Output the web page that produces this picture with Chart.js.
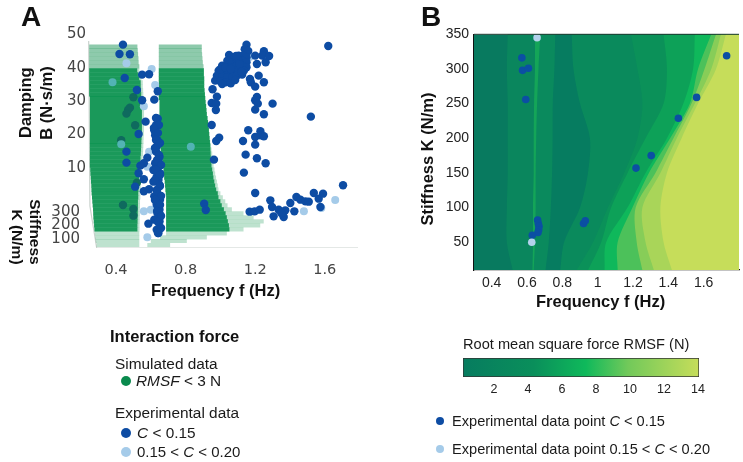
<!DOCTYPE html>
<html>
<head>
<meta charset="utf-8">
<script src="https://cdn.jsdelivr.net/npm/chart.js@4"></script>
<style>
  html, body { margin: 0; padding: 0; background: #fff; }
  body { width: 743px; height: 462px; position: relative; overflow: hidden; font-family: "Liberation Sans", Arial, sans-serif; color: #1a1a1a; }
  canvas { position: absolute; }
  .t { position: absolute; white-space: nowrap; font-size: 15.4px; line-height: 16px; }
  .r { font-size: 14.6px; }
  .b { font-weight: bold; color: #111; font-size: 16.5px; }
  .rot { transform-origin: center; }
  .dot { position: absolute; border-radius: 50%; }
</style>
</head>
<body>
<canvas id="chartA" width="370" height="310" style="left:0;top:0"></canvas>
<canvas id="chartB" width="343" height="310" style="left:400px;top:0"></canvas>
<canvas id="chartBar" width="270" height="50" style="left:450px;top:352px"></canvas>

<div class="t b" style="left:21px;top:3px;font-size:28px;line-height:28px">A</div>
<div class="t b" style="left:421px;top:3px;font-size:28px;line-height:28px">B</div>

<div class="t b rot" style="left:-10px;top:95px;width:70px;text-align:center;transform:rotate(-90deg)">Damping</div>
<div class="t b rot" style="left:6px;top:95px;width:80px;text-align:center;transform:rotate(-90deg)">B (N·s/m)</div>
<div class="t b rot" style="left:0px;top:224px;width:70px;text-align:center;font-size:15.5px;transform:rotate(90deg)">Stiffness</div>
<div class="t b rot" style="left:-18px;top:229px;width:70px;text-align:center;font-size:15.5px;transform:rotate(90deg)">K (N/m)</div>
<div class="t b" style="left:151px;top:282px">Frequency f (Hz)</div>
<div class="t b" style="left:536px;top:293px">Frequency f (Hz)</div>
<div class="t b rot" style="left:347px;top:151px;width:160px;text-align:center;transform:rotate(-90deg)">Stiffness K (N/m)</div>

<div class="t b" style="left:110px;top:328px">Interaction force</div>
<div class="t" style="left:115px;top:356px">Simulated data</div>
<span class="dot" style="left:121px;top:376px;width:10px;height:10px;background:#0a8a4d"></span>
<div class="t" style="left:136px;top:373px"><i>RMSF</i> &lt; 3 N</div>
<div class="t" style="left:115px;top:405px">Experimental data</div>
<span class="dot" style="left:121px;top:428px;width:10px;height:10px;background:#0d4ca3"></span>
<div class="t" style="left:137px;top:425px"><i>C</i> &lt; 0.15</div>
<span class="dot" style="left:121px;top:447px;width:10px;height:10px;background:#a5cbe9"></span>
<div class="t" style="left:137px;top:444px;font-size:15px">0.15 &lt; <i>C</i> &lt; 0.20</div>

<div class="t r" style="left:463px;top:336px">Root mean square force RMSF (N)</div>
<span class="dot" style="left:436px;top:417px;width:8px;height:8px;background:#0d4ca3"></span>
<div class="t r" style="left:452px;top:413px">Experimental data point <i>C</i> &lt; 0.15</div>
<span class="dot" style="left:436px;top:445px;width:8px;height:8px;background:#a5cbe9"></span>
<div class="t r" style="left:452px;top:441px">Experimental data point 0.15 &lt; <i>C</i> &lt; 0.20</div>

<script>
// Panel A: tick labels
const freqTicksA = [0.4, 0.8, 1.2, 1.6]
const dampTicks = [10, 20, 30, 40, 50]
const stiffTicksA = [100, 200, 300]

// Panel A: experimental points C < 0.15
const frontFreq = [0.44,0.42,0.48,0.45,0.55,0.59,0.52,0.55,0.57,0.53,0.46,0.46,0.58,0.56,0.54,0.53,0.56,0.51,0.56,0.59,
  0.64,0.62,0.64,0.63,0.62,0.625,0.638,0.634,0.63,0.65,0.625,0.644,0.615,0.653,0.634,0.615,0.65,0.634,0.62,0.653,0.634,0.65,0.653,0.62,0.586,0.65,0.634,0.644,0.638,0.63,0.644,0.644,
  0.63,0.647,0.618,0.641,0.63,0.653,0.624,0.647,0.636,0.659,0.63,0.653,0.624,0.653,0.636,0.659,0.624,0.653,0.636,0.659,0.641,0.659,0.641,
  0.955,0.98,0.95,0.976,0.974,0.95,0.993,0.976,0.963,0.907,0.916,
  1.15,1.14,1.16,1.05,1.08,1.105,1.13,1.15,1.04,1.07,1.095,1.125,1.15,1.01,1.04,1.07,1.095,1.125,1.15,0.99,1.02,1.05,1.08,1.105,1.135,0.98,1.01,1.04,1.07,1.095,1.125,0.97,1.0,1.03,1.06,1.085,1.01,
  1.10,1.0,1.03,1.06,1.11,1.09,1.12,
  1.25,1.24,1.28,1.2,1.21,1.26,1.22,1.17,1.175,1.25,1.2,1.21,1.2,1.215,1.3,1.2,1.25,1.16,1.23,1.23,1.2,1.25,1.13,1.2,1.145,1.21,1.26,1.135,1.52,1.62,
  1.705,1.2,1.537,1.59,1.437,1.287,1.402,1.46,1.489,1.508,1.565,1.297,1.335,1.168,1.197,1.226,1.373,1.425,1.575,1.306,1.364,1.35]
const frontDamp = [46.9,44.1,44,36.9,37.9,38,33.3,30.2,23.8,20.1,14.8,11.5,13,11.3,10.6,8.3,6.5,4.3,2.9,3.5,
  32.9,30.4,24.7,22.7,21.2,19.7,18.2,16.3,14.8,13.3,11.3,10.3,9.3,8.3,7.3,5.8,4.8,3.3,1.4,0.4,-1.1,-2.6,-4.1,-5.6,-6.8,-6.1,-8.6,-9.6,-3.6,9.3,12.3,6.3,
  24.9,22.8,21.9,20.4,18.3,17.4,15.9,13.8,12.3,10.8,9.3,7.8,6.3,4.5,3,1.5,0.3,-1.2,-3,-4.5,-6.3,-8.1,-9.6,
  33.5,31.3,29.4,29.2,27.3,22.8,19,18,12.4,-0.8,-2.7,
  46.9,45.5,45,43.8,43.1,43.6,43.6,43.1,42.1,41.6,42.1,42.1,41.6,40.6,40.1,40.1,40.6,40.6,40.1,39.1,38.6,38.6,38.6,39.1,39.1,37.6,37.3,37.1,37.3,37.6,37.9,36.1,35.9,35.6,35.3,36.3,35.1,
  42.5,39.5,40,39.6,41,43.5,38.8,
  44.9,43.6,43.5,43.6,41.1,41.6,37.6,36.6,35.6,35.6,34.3,31.2,30.2,29.2,29.2,27.4,26,21.2,20.9,19.7,19.2,19.4,18,16.9,13.9,12.8,11.3,8.5,25.3,46.5,
  4.7,2.4,2.4,2.2,1.2,0.2,-0.6,0.4,-0.1,-0.2,0.7,-1.8,-2.6,-3.2,-3.1,-2.6,-2.8,-3.1,-1.8,-4.6,-4.8,-3.6]

// Panel A: C < 0.15 points seen through the green surface
const shadedFreq = [0.50,0.47,0.48,0.46,0.51,0.43,0.52,0.44,0.50,0.50]
const shadedDamp = [31.1,27.4,28,26.2,22.7,18.2,5.5,-1.2,-2.4,-4.4]

// Panel A: experimental points 0.15 < C < 0.20
const lightFreq = [0.46,0.605,0.625,0.56,0.59,0.58,0.60,0.56,0.65,0.58,1.66,1.48,1.36,1.17,1.58]
const lightDamp = [41.3,39.6,34.8,28.4,14.8,10.3,-2.6,-3.1,-6.6,-10.9,0.3,-3.1,-4.4,43.3,-2.1]
const tintedFreq = [0.38,0.43,0.83]
const tintedDamp = [35.6,17,16.3]

// Panel A: simulated RMSF < 3 N surface, one layer per row
const layerDamp = [46.3,45.2,44,42.8,41.6,40.4,39.2,38,36.8,35.6,34.4,33.2,32,30.9,29.7,28.5,27.3,26.1,24.9,23.7,22.5,21.3,20.1,18.9,17.7,16.6,15.4,14.2,13,11.8,10.6,9.4,8.2,7,5.8,4.6,3.4,2.3,1.1,-0.1,-1.3,-2.5,-3.7,-4.9,-6.1,-7.3,-8.5,-9.7,-10.9,-12,-13.2]
const band1Left = [0.246,0.246,0.246,0.246,0.246,0.246,0.246,0.246,0.246,0.246,0.246,0.246,0.246,0.25,0.25,0.25,0.25,0.25,0.25,0.25,0.25,0.25,0.25,0.25,0.25,0.25,0.25,0.25,0.25,0.25,0.25,0.252,0.253,0.255,0.256,0.258,0.259,0.26,0.262,0.264,0.266,0.268,0.269,0.27,0.272,0.274,0.276,0.279,0.281,0.284,0.289]
const band1Right = [0.523,0.525,0.527,0.529,0.53,0.534,0.534,0.538,0.546,0.554,0.554,0.556,0.557,0.558,0.559,0.56,0.561,0.561,0.561,0.561,0.561,0.561,0.56,0.559,0.558,0.557,0.556,0.555,0.553,0.551,0.548,0.546,0.545,0.544,0.543,0.542,0.541,0.54,0.54,0.538,0.538,0.537,0.537,0.536,0.536,0.535,0.535,0.534,0.534,0.534,0.534]
const band2Left = [0.646,0.646,0.646,0.646,0.646,0.646,0.646,0.646,0.646,0.646,0.646,0.646,0.646,0.646,0.65,0.65,0.65,0.65,0.65,0.65,0.65,0.65,0.65,0.652,0.653,0.655,0.657,0.66,0.663,0.666,0.67,0.673,0.675,0.677,0.68,0.682,0.684,0.686,0.688,0.688,0.688,0.688,0.688,0.688,0.688,0.688,0.688,0.688,0.653,0.6,0.58]
const band2Right = [0.893,0.893,0.895,0.897,0.899,0.903,0.905,0.905,0.907,0.907,0.907,0.909,0.911,0.913,0.915,0.918,0.92,0.922,0.926,0.929,0.932,0.934,0.936,0.938,0.942,0.945,0.949,0.953,0.957,0.959,0.961,0.966,0.97,0.975,0.98,0.985,0.989,1.0,1.014,1.028,1.041,1.066,1.133,1.191,1.249,1.229,1.133,1.037,0.922,0.807,0.711]
const band2Core = [0.893,0.893,0.895,0.897,0.899,0.903,0.905,0.905,0.907,0.907,0.907,0.909,0.911,0.913,0.915,0.918,0.92,0.922,0.926,0.929,0.932,0.934,0.936,0.938,0.94,0.942,0.943,0.944,0.945,0.947,0.949,0.953,0.957,0.96,0.965,0.97,0.976,0.985,0.989,1.0,1.008,1.02,1.03,1.037,1.043,1.049,1.052,1.037,0.922,0.807,0.711]

// Panel A: the 3D box edges
const boxEdgeFreq = [0.243,0.25,0.289,1.791]
const boxEdgeDamp = [48,-1.5,-14.1,-14.1]

// Panel B: contour boundaries, frequency at each stiffness row
const contourStiff = [10,50,100,150,200,250,300,350]
const contourLeft = [0.3,0.3,0.3,0.3,0.3,0.3,0.3,0.3]
const contourA = [0.519,0.486,0.486,0.491,0.491,0.491,0.486,0.491]
const contourB = [0.631,0.634,0.634,0.638,0.638,0.640,0.645,0.645]
const contourC = [0.638,0.645,0.649,0.649,0.652,0.657,0.665,0.675]
const contourD = [0.705,0.723,0.735,0.742,0.745,0.746,0.755,0.76]
const contourE = [0.788,0.81,0.9,0.945,0.956,0.9,0.863,0.853]
const contourF = [0.881,0.974,1.058,1.15,1.225,1.253,1.225,1.188]
const contourG = [0.946,1.02,1.076,1.169,1.271,1.373,1.392,1.373]
const contourH = [1.039,1.048,1.169,1.271,1.392,1.485,1.54,1.55]
const contourI = [1.113,1.113,1.197,1.29,1.41,1.522,1.568,1.643]
const contourJ = [1.253,1.221,1.215,1.327,1.429,1.531,1.605,1.67]
const contourK = [1.318,1.271,1.253,1.355,1.448,1.55,1.643,1.698]
const contourL = [1.42,1.373,1.355,1.392,1.475,1.568,1.67,1.726]
const contourM = [1.522,1.494,1.429,1.438,1.503,1.587,1.698,1.754]

// Panel B: tick labels and points
const freqTicksB = [0.4, 0.6, 0.8, 1, 1.2, 1.4, 1.6]
const stiffTicksB = [50, 100, 150, 200, 250, 300, 350]
const pointFreqB = [0.571,0.575,0.608,0.593,0.66,0.664,0.668,0.666,0.662,0.63,0.92,0.93,1.217,1.303,1.457,1.56,1.73]
const pointStiffB = [316,298,301,256,82,77,73,68,64,60,77,81,157,175,229,259,319]
const lightFreqB = [0.657,0.627]
const lightStiffB = [345,50]

// Colour bar
const rmsfRange = [0.18, 14.06]
const rmsfTicks = [2, 4, 6, 8, 10, 12, 14]

const zip = (xs, ys) => xs.map((x, i) => ({x: x, y: ys[i]}))
const setTicks = list => axis => { axis.ticks = list.map(v => ({value: v})) }
const dots = (xs, ys, color, radius, order) => ({
  data: zip(xs, ys), backgroundColor: color, borderWidth: 0, pointRadius: radius, order: order
})

Chart.defaults.animation = false
Chart.defaults.responsive = false
Chart.defaults.events = []
Chart.defaults.plugins.legend.display = false
Chart.defaults.plugins.tooltip.enabled = false

// green layers
let layers = []
layerDamp.forEach((b, i) => {
  const pale = 'rgba(40,160,95,0.3)'
  const mid = 'rgba(30,150,90,0.5)'
  const row = (l, r, color, order) => ({
    type: 'line', data: [{x: l, y: b}, {x: r, y: b}], borderColor: color, borderWidth: 4.2,
    pointRadius: 0, backgroundColor: 'transparent', order: order
  })
  layers.push(row(band1Left[i], band1Right[i], i < 6 ? mid : pale, 5))
  layers.push(row(band2Left[i], band2Right[i], i < 6 ? mid : pale, 5))
  if (i >= 6 && i < 47) {
    const core = 'rgba(8,145,78,0.9)'
    layers.push(row(band1Left[i], band1Right[i] - 0.012, core, 4))
    layers.push(row(band2Left[i], band2Core[i], core, 4))
  }
})

new Chart(document.getElementById('chartA'), {
  type: 'scatter',
  data: {
    datasets: [
      {type: 'line', data: zip(boxEdgeFreq, boxEdgeDamp), borderColor: '#c9d2cd', borderWidth: 1.2, pointRadius: 0, order: 7},
      ...layers,
      dots(frontFreq, frontDamp, '#0d4ca3', 4.2, 2),
      dots(shadedFreq, shadedDamp, '#0f6a5e', 4.2, 2),
      dots(tintedFreq, tintedDamp, '#52b3b4', 4, 1),
      dots(lightFreq, lightDamp, '#a5cbe9', 4, 3)
    ]
  },
  options: {
    layout: {padding: {top: 34.3, right: 12}},
    scales: {
      x: {
        min: 0.239, max: 1.791,
        border: {display: false}, grid: {display: false},
        afterFit: a => { a.height = 62 },
        afterBuildTicks: setTicks(freqTicksA),
        ticks: {maxRotation: 0, autoSkip: false, padding: 6, color: '#444', font: {family: 'DejaVu Sans', size: 14.5}, callback: v => v.toFixed(1)}
      },
      y: {
        min: -14.1, max: 50,
        border: {display: false}, grid: {display: false, drawTicks: false},
        afterFit: a => { a.width = 88 },
        afterBuildTicks: setTicks(dampTicks),
        ticks: {autoSkip: false, padding: 2, color: '#444', font: {family: 'DejaVu Sans', size: 15}}
      },
      stiff: {
        axis: 'y', position: {x: 0.193}, min: 29.5, max: 1648.6,
        border: {display: false}, grid: {display: false, drawTicks: false},
        afterBuildTicks: setTicks(stiffTicksA),
        ticks: {autoSkip: false, color: '#444', font: {family: 'DejaVu Sans', size: 15}}
      }
    }
  }
})

// contour fills, painted left to right
const levels = [
  [contourLeft, '#087a5f'], [contourA, '#0a865d'], [contourB, '#14a558'], [contourC, '#0a8a5d'],
  [contourD, '#067c60'], [contourE, '#0a8a5c'], [contourF, '#0b9159'], [contourG, '#0da158'],
  [contourH, '#0fb85b'], [contourI, '#4cc15a'], [contourJ, '#87cd58'], [contourK, '#a9d559'], [contourL, '#c6dd5a']
]
const contourSets = levels.map((lv, i) => ({
  type: 'line', indexAxis: 'y', data: zip(lv[0], contourStiff), tension: 0.3,
  borderWidth: 0, pointRadius: 0, backgroundColor: lv[1], fill: {value: 1.8}, order: 30 - i
}))

const topEdge = {
  id: 'topEdge',
  afterDatasetsDraw(chart) {
    const c = chart.ctx, a = chart.chartArea
    c.save()
    c.strokeStyle = '#1d3a30'
    c.lineWidth = 1
    c.beginPath()
    c.moveTo(a.left, a.top)
    c.lineTo(a.right, a.top)
    c.stroke()
    c.restore()
  }
}

new Chart(document.getElementById('chartB'), {
  type: 'scatter',
  data: {
    datasets: [
      ...contourSets,
      dots(pointFreqB, pointStiffB, '#0b4fa3', 3.8, 2),
      dots(lightFreqB, lightStiffB, '#b3d2ec', 3.8, 1)
    ]
  },
  options: {
    layout: {padding: {top: 34.3, right: 0}},
    scales: {
      x: {
        min: 0.3, max: 1.8,
        border: {color: '#111', width: 1.2}, grid: {display: false, drawTicks: false},
        afterFit: a => { a.height = 40 },
        afterBuildTicks: setTicks(freqTicksB),
        ticks: {maxRotation: 0, autoSkip: false, padding: 5, color: '#222', font: {family: 'Liberation Sans', size: 14}, callback: v => String(v)}
      },
      y: {
        min: 10, max: 350,
        border: {color: '#111', width: 1.2}, grid: {display: false, drawTicks: false},
        afterFit: a => { a.width = 74 },
        afterBuildTicks: setTicks(stiffTicksB),
        ticks: {autoSkip: false, padding: 5, color: '#222', font: {family: 'Liberation Sans', size: 14}}
      }
    }
  },
  plugins: [topEdge]
})

// colour bar
new Chart(document.getElementById('chartBar'), {
  type: 'bar',
  data: {
    labels: ['RMSF'],
    datasets: [{
      data: [rmsfRange],
      barPercentage: 1, categoryPercentage: 1,
      borderColor: '#333', borderWidth: 1, borderSkipped: false,
      backgroundColor: ctx => {
        const a = ctx.chart.chartArea
        if (!a) return '#0a8a5c'
        const g = ctx.chart.ctx.createLinearGradient(a.left, 0, a.right, 0)
        g.addColorStop(0, '#077c5f')
        g.addColorStop(0.3, '#0a8f5b')
        g.addColorStop(0.52, '#0fb95b')
        g.addColorStop(0.7, '#72c95a')
        g.addColorStop(1, '#c6dd5a')
        return g
      }
    }]
  },
  options: {
    indexAxis: 'y',
    layout: {padding: {top: 6, left: 13, right: 21}},
    scales: {
      x: {
        min: rmsfRange[0], max: rmsfRange[1],
        border: {display: false}, grid: {display: false, drawTicks: true, tickLength: 3, tickColor: '#222'},
        afterFit: a => { a.height = 25 },
        afterBuildTicks: setTicks(rmsfTicks),
        ticks: {maxRotation: 0, autoSkip: false, padding: 2, color: '#222', font: {family: 'Liberation Sans', size: 12.5}}
      },
      y: {display: false}
    }
  }
})
</script>
</body>
</html>
